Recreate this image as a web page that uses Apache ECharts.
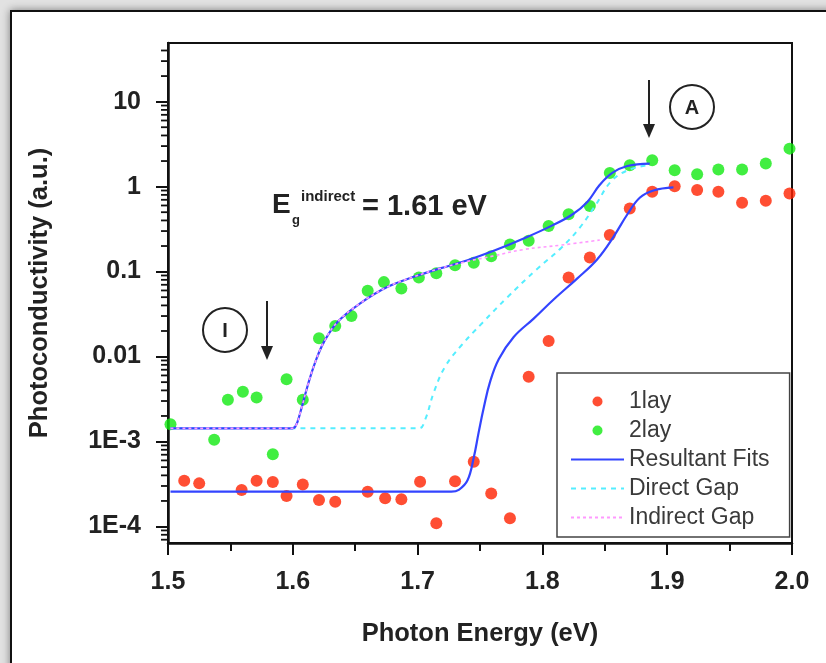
<!DOCTYPE html>
<html>
<head>
<meta charset="utf-8">
<script src="https://cdn.jsdelivr.net/npm/echarts@6/dist/echarts.min.js"></script>
<style>
  html, body { margin: 0; padding: 0; width: 826px; height: 663px; overflow: hidden; background: #e2e2e2; }
  #frame { position: absolute; left: 10px; top: 10px; width: 900px; height: 800px; border: 2px solid #111; background: #fff; box-shadow: 0 0 8px rgba(0,0,0,0.45); }
  #chart { position: absolute; left: 0; top: 0; width: 826px; height: 663px; }
</style>
</head>
<body>
<div id="frame"></div>
<div id="chart"></div>
<script>
// ---- data ----
const x1lay = [1.513, 1.525, 1.559, 1.571, 1.584, 1.595, 1.608, 1.621, 1.634, 1.660, 1.674, 1.687, 1.702, 1.715, 1.730, 1.745, 1.759, 1.774, 1.789, 1.805, 1.821, 1.838, 1.854, 1.870, 1.888, 1.906, 1.924, 1.941, 1.960, 1.979, 1.998];
const y1lay = [3.46e-4, 3.22e-4, 2.69e-4, 3.46e-4, 3.34e-4, 2.29e-4, 3.13e-4, 2.05e-4, 1.96e-4, 2.57e-4, 2.15e-4, 2.1e-4, 3.37e-4, 1.09e-4, 3.4e-4, 5.8e-4, 2.45e-4, 1.25e-4, 5.8e-3, 0.0153, 0.0855, 0.147, 0.269, 0.553, 0.87, 1.01, 0.91, 0.87, 0.645, 0.68, 0.83];

const x2lay = [1.502, 1.537, 1.548, 1.560, 1.571, 1.584, 1.595, 1.608, 1.621, 1.634, 1.647, 1.660, 1.673, 1.687, 1.701, 1.715, 1.730, 1.745, 1.759, 1.774, 1.789, 1.805, 1.821, 1.838, 1.854, 1.870, 1.888, 1.906, 1.924, 1.941, 1.960, 1.979, 1.998];
const y2lay = [1.6e-3, 1.05e-3, 3.1e-3, 3.85e-3, 3.3e-3, 7.1e-4, 5.4e-3, 3.1e-3, 0.0164, 0.0229, 0.030, 0.0594, 0.0752, 0.0634, 0.0855, 0.0955, 0.119, 0.127, 0.152, 0.209, 0.23, 0.343, 0.474, 0.59, 1.45, 1.79, 2.05, 1.56, 1.40, 1.59, 1.59, 1.87, 2.8];

const xFit2 = [1.502, 1.598, 1.602, 1.606, 1.612, 1.618, 1.625, 1.636, 1.654, 1.676, 1.697, 1.718, 1.740, 1.762, 1.785, 1.808, 1.824, 1.836, 1.846, 1.856, 1.868, 1.886];
const yFit2 = [1.43e-3, 1.43e-3, 1.5e-3, 2.2e-3, 4.6e-3, 8.6e-3, 0.0149, 0.0257, 0.0423, 0.0662, 0.0869, 0.109, 0.136, 0.178, 0.245, 0.35, 0.47, 0.66, 1.05, 1.45, 1.75, 1.87];

const xFit1 = [1.502, 1.727, 1.733, 1.740, 1.745, 1.749, 1.753, 1.758, 1.765, 1.777, 1.793, 1.809, 1.828, 1.844, 1.857, 1.868, 1.878, 1.889, 1.905];
const yFit1 = [2.57e-4, 2.57e-4, 2.7e-4, 3.5e-4, 6.5e-4, 1.3e-3, 2.5e-3, 5.0e-3, 9.3e-3, 0.017, 0.028, 0.047, 0.0832, 0.14, 0.257, 0.47, 0.74, 0.9, 0.978];

const xDirect = [1.502, 1.701, 1.706, 1.713, 1.722, 1.735, 1.752, 1.772, 1.795, 1.815, 1.830, 1.843, 1.855, 1.868, 1.884];
const yDirect = [1.43e-3, 1.43e-3, 1.8e-3, 3.8e-3, 7.6e-3, 0.0135, 0.025, 0.05, 0.105, 0.19, 0.33, 0.62, 1.15, 1.55, 1.79];

const xIndirect = [1.502, 1.598, 1.602, 1.606, 1.612, 1.618, 1.625, 1.636, 1.654, 1.676, 1.697, 1.718, 1.740, 1.760, 1.785, 1.815, 1.846];
const yIndirect = [1.43e-3, 1.43e-3, 1.5e-3, 2.2e-3, 4.6e-3, 8.6e-3, 0.0149, 0.0257, 0.0423, 0.0662, 0.0869, 0.109, 0.132, 0.152, 0.182, 0.205, 0.235];

const xTickLabels = ['1.5', '1.6', '1.7', '1.8', '1.9', '2.0'];
const yTickValues = [1e-4, 1e-3, 0.01, 0.1, 1, 10];
const yTickLabels = ['1E-4', '1E-3', '0.01', '0.1', '1', '10'];

const legendNames = ['1lay', '2lay', 'Resultant Fits', 'Direct Gap', 'Indirect Gap'];

// ---- helpers ----
const zip = (xs, ys) => xs.map((x, i) => [x, ys[i]]);
const yMin = 6.4e-5, yMax = 49;
const minorVals = [];
for (let e = -5; e <= 1; e++) {
  for (let k = 2; k <= 9; k++) {
    const v = k * Math.pow(10, e);
    if (v > yMin && v < yMax) minorVals.push([1.5, v]);
  }
}
const fontFam = '"Liberation Sans", Arial, sans-serif';
const hideSym = { opacity: 0 };

const chart = echarts.init(document.getElementById('chart'), null, { renderer: 'canvas' });
const option = {
  animation: false,
  backgroundColor: 'transparent',
  grid: { left: 168, right: 34, top: 43, bottom: 120, show: true, borderColor: '#111', borderWidth: 2, backgroundColor: 'transparent' },
  xAxis: {
    type: 'value', min: 1.5, max: 2.0, interval: 0.1,
    name: 'Photon Energy (eV)', nameLocation: 'middle', nameGap: 78,
    nameTextStyle: { fontFamily: fontFam, fontSize: 25.5, fontWeight: 'bold', color: '#222' },
    axisLine: { show: true, onZero: false, lineStyle: { color: '#111', width: 2.5 } },
    axisTick: { show: true, inside: false, length: 12, lineStyle: { color: '#111', width: 2 } },
    minorTick: { show: true, splitNumber: 2, length: 8, lineStyle: { color: '#111', width: 2 } },
    splitLine: { show: false },
    axisLabel: {
      margin: 27, fontFamily: fontFam, fontSize: 25, fontWeight: 'bold', color: '#222',
      formatter: v => { const i = Math.round((v - 1.5) * 10); return Math.abs((v - 1.5) * 10 - i) < 1e-6 ? xTickLabels[i] : ''; }
    }
  },
  yAxis: {
    type: 'log', logBase: 10, min: yMin, max: yMax,
    name: 'Photoconductivity (a.u.)', nameLocation: 'middle', nameGap: 115,
    nameTextStyle: { fontFamily: fontFam, fontSize: 25.5, fontWeight: 'bold', color: '#222' },
    axisLine: { show: true, lineStyle: { color: '#111', width: 2.5 } },
    axisTick: { show: true, inside: false, length: 12, lineStyle: { color: '#111', width: 2 } },
    splitLine: { show: false },
    axisLabel: {
      margin: 27, fontFamily: fontFam, fontSize: 25, fontWeight: 'bold', color: '#222',
      showMinLabel: false, showMaxLabel: false,
      formatter: v => {
        for (let i = 0; i < yTickValues.length; i++) {
          if (Math.abs(Math.log10(v) - Math.log10(yTickValues[i])) < 1e-6) return yTickLabels[i];
        }
        return '';
      }
    }
  },
  legend: {
    data: [
      { name: legendNames[0], icon: 'circle' },
      { name: legendNames[1], icon: 'circle' },
      { name: legendNames[2], itemStyle: hideSym },
      { name: legendNames[3], itemStyle: hideSym },
      { name: legendNames[4], itemStyle: hideSym }
    ],
    orient: 'vertical', left: 557, top: 373,
    padding: [17, 20, 8, 13],
    itemWidth: 53, itemHeight: 10, itemGap: 6,
    backgroundColor: '#fff', borderColor: '#444', borderWidth: 1.5,
    textStyle: { fontFamily: fontFam, fontSize: 23, color: '#3a3a3a', lineHeight: 22 },
    selectedMode: false, z: 10
  },
  series: [
    {
      name: legendNames[0], type: 'scatter', data: zip(x1lay, y1lay),
      symbol: 'circle', symbolSize: 12, itemStyle: { color: '#ff2200' }, z: 2
    },
    {
      name: legendNames[1], type: 'scatter', data: zip(x2lay, y2lay),
      symbol: 'circle', symbolSize: 12, itemStyle: { color: '#11ea11' }, z: 2
    },
    {
      name: legendNames[3], type: 'line', data: zip(xDirect, yDirect), symbol: 'none', showSymbol: false,
      smooth: 0.4,
      lineStyle: { color: '#55eeff', width: 2, type: [5, 5] }, itemStyle: { color: '#55eeff' }, z: 3
    },
    {
      name: legendNames[2], type: 'line', data: zip(xFit2, yFit2), symbol: 'none', showSymbol: false,
      smooth: 0.4,
      lineStyle: { color: '#3344ff', width: 2.2 }, itemStyle: { color: '#3344ff' }, z: 4
    },
    {
      name: legendNames[2], type: 'line', data: zip(xFit1, yFit1), symbol: 'none', showSymbol: false,
      smooth: 0.4,
      lineStyle: { color: '#3344ff', width: 2.2 }, itemStyle: { color: '#3344ff' }, z: 4
    },
    {
      name: legendNames[4], type: 'line', data: zip(xIndirect, yIndirect), symbol: 'none', showSymbol: false,
      smooth: 0.4,
      lineStyle: { color: '#ff99ff', width: 1.6, type: [3, 3] }, itemStyle: { color: '#ff99ff' }, z: 5
    },
    {
      name: 'yMinorTicks', type: 'custom', data: minorVals, clip: false, silent: true, z: 6,
      encode: { x: 0, y: 1 },
      renderItem: (params, api) => {
        const p = api.coord([api.value(0), api.value(1)]);
        return { type: 'line', shape: { x1: p[0] - 7, y1: p[1], x2: p[0], y2: p[1] }, style: { stroke: '#111', lineWidth: 1.8 } };
      }
    }
  ],
  graphic: [
    // E_g^indirect = 1.61 eV
    { type: 'text', left: 272, top: 191, style: { text: 'E', fontFamily: fontFam, fontSize: 28, fontWeight: 'bold', fill: '#222' } },
    { type: 'text', left: 292, top: 214, style: { text: 'g', fontFamily: fontFam, fontSize: 13, fontWeight: 'bold', fill: '#222' } },
    { type: 'text', left: 301, top: 189, style: { text: 'indirect', fontFamily: fontFam, fontSize: 15, fontWeight: 'bold', fill: '#222' } },
    { type: 'text', left: 362, top: 192, style: { text: '= 1.61 eV', fontFamily: fontFam, fontSize: 29, fontWeight: 'bold', fill: '#222' } },
    // A marker
    { type: 'circle', shape: { cx: 692, cy: 107, r: 22 }, style: { fill: 'none', stroke: '#222', lineWidth: 2 } },
    { type: 'text', x: 692, y: 108, style: { text: 'A', fontFamily: fontFam, fontSize: 20, fontWeight: 'bold', fill: '#222', align: 'center', verticalAlign: 'middle' } },
    { type: 'line', shape: { x1: 649, y1: 80, x2: 649, y2: 128 }, style: { stroke: '#222', lineWidth: 2 } },
    { type: 'polygon', shape: { points: [[643, 124], [655, 124], [649, 138]] }, style: { fill: '#222' } },
    // I marker
    { type: 'circle', shape: { cx: 225, cy: 330, r: 22 }, style: { fill: 'none', stroke: '#222', lineWidth: 2 } },
    { type: 'text', x: 225, y: 331, style: { text: 'I', fontFamily: fontFam, fontSize: 20, fontWeight: 'bold', fill: '#222', align: 'center', verticalAlign: 'middle' } },
    { type: 'line', shape: { x1: 267, y1: 301, x2: 267, y2: 350 }, style: { stroke: '#222', lineWidth: 2 } },
    { type: 'polygon', shape: { points: [[261, 346], [273, 346], [267, 360]] }, style: { fill: '#222' } }
  ]
};
chart.setOption(option);
</script>
</body>
</html>
